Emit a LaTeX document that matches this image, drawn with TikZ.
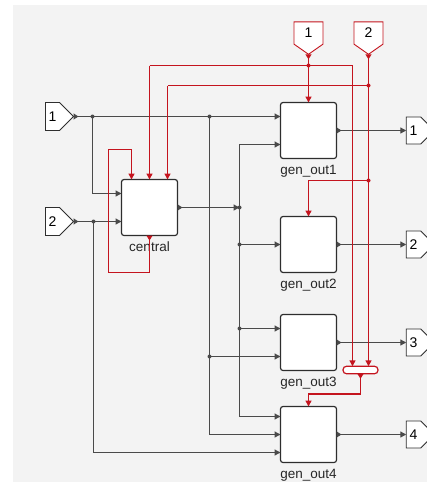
\documentclass[tikz,border=0pt]{standalone}
\usepackage{fontspec}
\setmainfont{Liberation Sans}
\usetikzlibrary{arrows.meta,shapes.symbols,calc}
\definecolor{bgc}{HTML}{F3F3F3}
\definecolor{dk}{HTML}{4A4A4A}
\definecolor{blkc}{HTML}{2E2E2E}
\definecolor{rd}{RGB}{196,20,30}
\begin{document}
\begin{tikzpicture}[x=1pt,y=-1pt,
  blk/.style={draw=blkc, fill=white, line width=1.2pt, rounded corners=2.5pt,
    minimum width=56pt, minimum height=56pt, inner sep=0pt, outer sep=0pt},
  port/.style={signal, signal pointer angle=90, draw=blkc, fill=white, line width=0.9pt,
    inner sep=0pt, outer sep=0pt, font=\fontsize{14}{16}\selectfont},
  rport/.style={port, draw=rd, signal to=south, signal pointer angle=110,
    minimum width=29pt, minimum height=25pt},
  lbl/.style={font=\fontsize{13.5}{15}\selectfont, text=black!85, inner sep=0pt},
  sig/.style={draw=dk, line width=1.3pt, -{Triangle[length=6pt,width=6pt]}},
  sigo/.style={draw=dk, line width=1.3pt, {Triangle[reversed,length=5pt,width=6pt]}-{Triangle[length=6pt,width=6pt]}},
  wire/.style={draw=dk, line width=1.3pt},
  rsig/.style={draw=rd, line width=1.5pt, -{Triangle[length=6pt,width=6pt]}},
  rsigo/.style={draw=rd, line width=1.5pt, {Triangle[reversed,length=5pt,width=6pt]}-{Triangle[length=6pt,width=6pt]}},
  rwire/.style={draw=rd, line width=1.5pt},
  dot/.style={circle, fill=dk, inner sep=0pt, minimum size=4pt},
  rdot/.style={circle, fill=rd, inner sep=0pt, minimum size=4pt}]
\useasboundingbox (0,0) rectangle (427,482);
\fill[bgc] (13,5) rectangle (427,482);
\begin{scope}[shift={(0.5,0.5)}]
% blocks
\node[blk] (central) at (149,207) {};
\node[blk] (gen1) at (308,130) {};
\node[blk] (gen2) at (308,244) {};
\node[blk] (gen3) at (308,342) {};
\node[blk] (gen4) at (308,434) {};
\node[draw=rd, fill=white, line width=1.2pt, rounded corners=3.5pt, minimum width=35pt,
  minimum height=7.5pt, inner sep=0pt, outer sep=0pt] (mux) at (360,369.5) {};

% labels
\node[lbl] (lc) at ($(central.south)+(0,11)$) {central};
\node[lbl] (l1) at ($(gen1.south)+(0,13)$) {gen\_out1};
\node[lbl] (l2) at ($(gen2.south)+(0,13)$) {gen\_out2};
\node[lbl] (l3) at ($(gen3.south)+(0,13)$) {gen\_out3};
\node[lbl] (l4) at ($(gen4.south)+(0,13)$) {gen\_out4};

% ports
\node[port, signal to=east, minimum width=28pt, minimum height=28pt] (in1) at (52,116) {1};
\node[port, signal to=east, minimum width=28pt, minimum height=28pt] (in2) at (52,221) {2};
\node[rport] (tin1) at (308,32.5) {1};
\node[rport] (tin2) at (368,32.5) {2};
\node[port, signal to=east, minimum width=28pt, minimum height=27pt] (out1) at (413,130) {1};
\node[port, signal to=east, minimum width=28pt, minimum height=27pt] (out2) at (413,244) {2};
\node[port, signal to=east, minimum width=28pt, minimum height=27pt] (out3) at (413,342) {3};
\node[port, signal to=east, minimum width=28pt, minimum height=27pt] (out4) at (413,434) {4};

% junction coordinates
\coordinate (j1) at (92,116);
\coordinate (j2) at (209,116);
\coordinate (j3) at (93,221);
\coordinate (j4) at (239,207);
\coordinate (j5) at (239,244);
\coordinate (j6) at (239,328);
\coordinate (j7) at (209,356);
\coordinate (jr1) at (308,65);
\coordinate (jr2) at (368,85);
\coordinate (jr3) at (368,180);
\coordinate (c1) at (149,65);
\coordinate (c2) at (352,65);
\coordinate (c3) at (167,85);
\coordinate (fb1) at (108,272);
\coordinate (fb2) at (108,149);
\coordinate (k1) at (209,434);

% dark signals
\draw[sigo] (in1.east) -- (in1.east -| gen1.west);
\draw[sig] (j1) |- ($(central.west)+(0,-14)$);
\draw[wire] (j2) -- (k1);
\draw[sig] (k1) -- (gen4.west);
\draw[sig] (j7) -- ($(gen3.west)+(0,14)$);
\draw[sigo] (in2.east) -- ($(central.west)+(0,14)$);
\draw[sig] (j3) |- ($(gen4.west)+(0,18)$);
\draw[sigo] (central.east) -- (j4);
\draw[sig] (j4) |- ($(gen1.west)+(0,14)$);
\draw[sig] (j4) |- ($(gen4.west)+(0,-18)$);
\draw[sig] (j5) -- (gen2.west);
\draw[sig] (j6) -- ($(gen3.west)+(0,-14)$);
\draw[sigo] (gen1.east) -- (out1.west);
\draw[sigo] (gen2.east) -- (out2.west);
\draw[sigo] (gen3.east) -- (out3.west);
\draw[sigo] (gen4.east) -- (out4.west);
\foreach \j in {j1,j2,j3,j4,j5,j6,j7} \node[dot] at (\j) {};

% red signals
\draw[rsigo] (tin1.south) -- (gen1.north);
\draw[rwire] (c1) -- (c2);
\draw[rsig] (c1) -- (central.north);
\draw[rsig] (c2) -- ($(mux.north)+(-8,0)$);
\draw[rsigo] (tin2.south) -- ($(mux.north)+(8,0)$);
\draw[rwire] (jr2) -- (c3);
\draw[rsig] (c3) -- ($(central.north)+(18,0)$);
\draw[rsig] (jr3) -| (gen2.north);
\draw[rsigo] (mux.south) -- ++(0,20) -| (gen4.north);
\draw[rsigo] (central.south) |- (fb1) -- (fb2) -| ($(central.north)+(-18,0)$);
\foreach \j in {jr1,jr2,jr3} \node[rdot] at (\j) {};
\end{scope}
\end{tikzpicture}
\end{document}
